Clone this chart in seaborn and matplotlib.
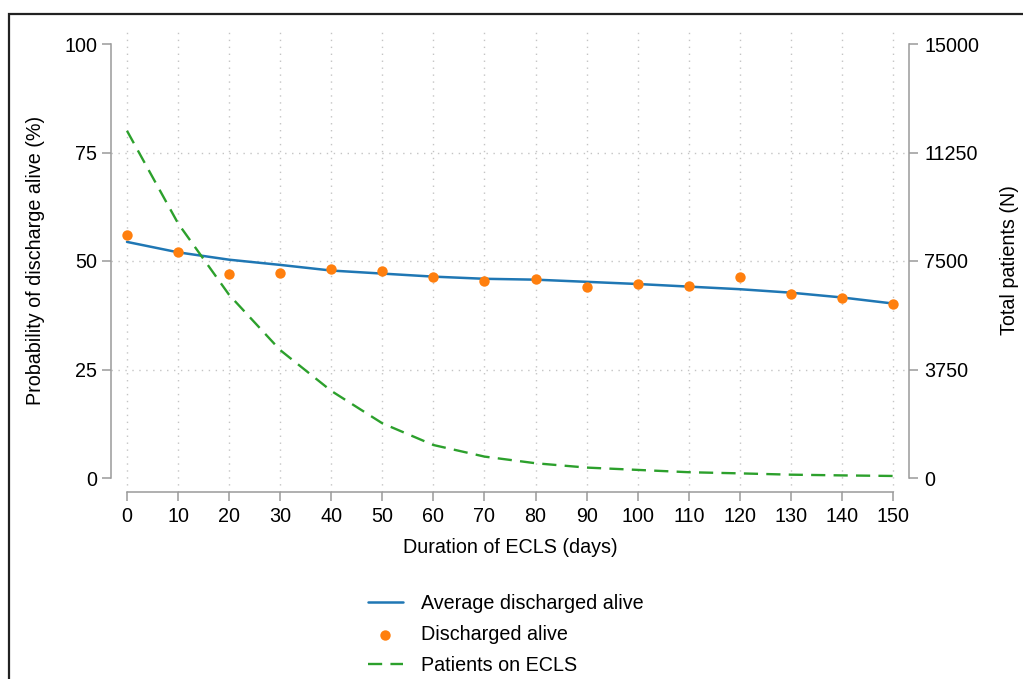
import numpy as np
import pandas as pd
import matplotlib
matplotlib.use("Agg")
import matplotlib.pyplot as plt
import seaborn as sns
from matplotlib.patches import Rectangle

# ---- data ----
days = [0, 10, 20, 30, 40, 50, 60, 70, 80, 90, 100, 110, 120, 130, 140, 150]
discharged_alive = [56.0, 52.0, 46.9, 47.2, 48.2, 47.7, 46.4, 45.5, 45.9, 44.1,
                    44.7, 44.2, 46.2, 42.3, 41.5, 40.2]
average_discharged = [54.4, 52.0, 50.3, 49.1, 47.8, 47.1, 46.4, 45.9, 45.7, 45.2,
                      44.7, 44.1, 43.5, 42.7, 41.6, 40.2]
patients_on_ecls = [12000, 8800, 6330, 4420, 3010, 1890, 1140, 740, 510, 360,
                    280, 200, 160, 115, 90, 70]
x_ticks = list(range(0, 151, 10))
y_ticks = [0, 25, 50, 75, 100]
y2_ticks = [0, 3750, 7500, 11250, 15000]

df = pd.DataFrame({"days": days, "obs": discharged_alive,
                   "avg": average_discharged, "n": patients_on_ecls})

sns.set_style("white")
plt.rcParams["font.family"] = ["Liberation Sans", "DejaVu Sans"]
plt.rcParams["text.color"] = "black"
plt.rcParams["axes.labelcolor"] = "black"
FS = 14.2
SPINE = "#9a9a9a"

W, H = 1023, 679
fig = plt.figure(figsize=(W / 100, H / 100), dpi=100)
# plot region in pixels: x 111..909, y 28..492
ax = fig.add_axes([111 / W, 1 - 492 / H, 798 / W, 464 / H])
ax2 = ax.twinx()

blue, orange, green = "#1f77b4", "#ff7f0e", "#2ca02c"

sns.lineplot(data=df, x="days", y="avg", ax=ax, color=blue, linewidth=1.8,
             label="Average discharged alive", zorder=3)
sns.scatterplot(data=df, x="days", y="obs", ax=ax, color=orange, s=56,
                linewidth=0, label="Discharged alive", zorder=4)
sns.lineplot(data=df, x="days", y="n", ax=ax2, color=green, linewidth=1.7,
             label="Patients on ECLS")
ax2.lines[-1].set_dashes([6.0, 3.5])

# limits: data range plus the plot-region margin
ax.set_xlim(-16 / 5.107, 782 / 5.107)
ax.set_ylim(-14 / 4.34, 450 / 4.34)
ax2.set_ylim(-14 / 4.34 * 150, 450 / 4.34 * 150)

ax.set_xticks(x_ticks)
ax.set_yticks(y_ticks)
ax2.set_yticks(y2_ticks)
ax.set_yticklabels([str(v) for v in y_ticks])
ax2.set_yticklabels([str(v) for v in y2_ticks])
ax.set_xticklabels([str(v) for v in x_ticks])

# grid
ax.grid(True, color="#c4c4c4", linestyle=(0, (1, 4)), linewidth=1.0)
ax2.grid(False)
ygl = ax.yaxis.get_gridlines()
ygl[0].set_visible(False)
ygl[-1].set_visible(False)
ax.set_axisbelow(True)

# spines
for a in (ax, ax2):
    for s in a.spines.values():
        s.set_color(SPINE)
        s.set_linewidth(1.1)
    a.spines["top"].set_visible(False)
ax.spines["right"].set_visible(False)
ax2.spines["left"].set_visible(False)
ax2.spines["bottom"].set_visible(False)
ax.spines["left"].set_bounds(0, 100)
ax.spines["bottom"].set_bounds(0, 150)
ax2.spines["right"].set_bounds(0, 15000)

ax.tick_params(axis="both", which="both", direction="out", length=6.5, width=1.1,
               color=SPINE, labelcolor="black", labelsize=FS)
ax.tick_params(axis="y", pad=3.5, left=True)
ax.tick_params(axis="x", pad=4.5, bottom=True)
ax2.tick_params(axis="y", direction="out", length=6.5, width=1.1, color=SPINE,
                labelcolor="black", labelsize=FS, pad=4.5, right=True)

ax.set_xlabel("Duration of ECLS (days)", fontsize=FS, color="black")
ax.set_ylabel("Probability of discharge alive (%)", fontsize=FS, color="black")
ax2.set_ylabel("Total patients (N)", fontsize=FS, color="black")
ax.xaxis.set_label_coords(0.5, -0.100)
ax.yaxis.set_label_coords((45 - 111) / 798, 0.5)
ax2.yaxis.set_label_coords((1000 - 111) / 798, 0.5)

# legend below the plot
h1, l1 = ax.get_legend_handles_labels()
h2, l2 = ax2.get_legend_handles_labels()
for a in (ax, ax2):
    if a.get_legend() is not None:
        a.get_legend().remove()
leg = fig.legend(h1 + h2, l1 + l2, loc="upper left",
                 bbox_to_anchor=(368 / W, 1 - 594 / H), frameon=False,
                 fontsize=FS, handlelength=1.75, handletextpad=0.95,
                 labelspacing=0.6, borderpad=0, borderaxespad=0,
                 labelcolor="black")

# outer frame (cut by the image edge on the right and bottom)
fig.add_artist(Rectangle((9 / W, -0.2), 1.5, 0.2 + 1 - 14 / H,
                         transform=fig.transFigure, fill=False,
                         edgecolor="#222222", linewidth=1.6, clip_on=False))

fig.savefig("out.png", dpi=100)
